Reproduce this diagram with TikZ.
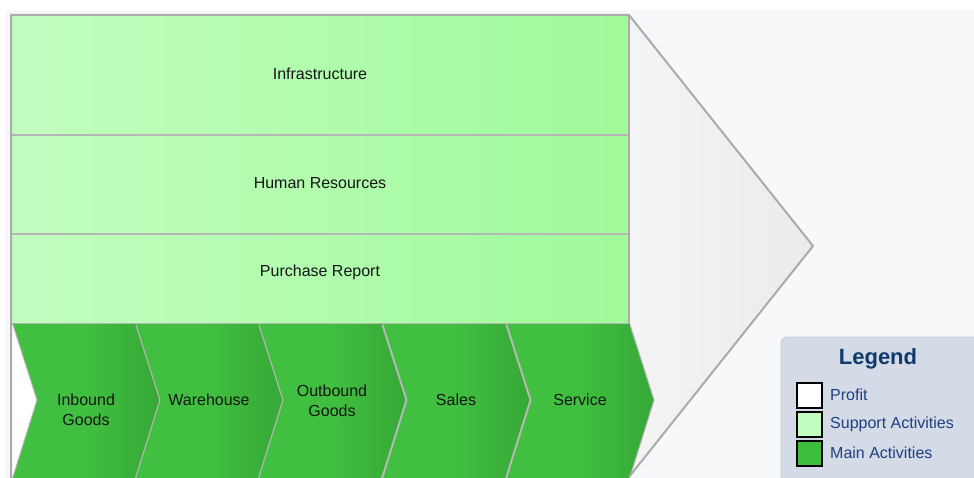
\documentclass[tikz,border=0pt]{standalone}
\usepackage{fontspec}
\setmainfont{Liberation Sans}
\definecolor{bgpane}{HTML}{F7F8FA}
\definecolor{edgegray}{HTML}{ABABAB}
\definecolor{sepgray}{HTML}{B6B6B6}
\definecolor{suppL}{HTML}{C2FDC0}
\definecolor{suppR}{HTML}{A0FB9A}
\definecolor{mainL}{HTML}{40BF40}
\definecolor{mainR}{HTML}{36A836}
\definecolor{triL}{HTML}{F4F4F4}
\definecolor{triR}{HTML}{EBEBEB}
\definecolor{legfill}{HTML}{D5DAE7}
\definecolor{legedge}{HTML}{C9CEDB}
\definecolor{legtitle}{HTML}{0E3A6C}
\definecolor{legtext}{HTML}{1D3F80}
\definecolor{mainsw}{HTML}{3CBD3C}
\definecolor{lbltext}{HTML}{151515}
\tikzset{
  lbl/.style={font=\fontsize{16}{20}\selectfont, text=lbltext, align=center, inner sep=0pt},
  legitem/.style={font=\fontsize{16}{20}\selectfont, text=legtext, anchor=west, inner sep=0pt},
  swatch/.style={draw=black, line width=1.5pt},
  rowsep/.style={draw=sepgray, line width=1.5pt},
  chevline/.style={draw=sepgray, line width=1pt},
}
\begin{document}
\begin{tikzpicture}[x=1pt,y=-1pt]
\clip (0,0) rectangle (974,478);
\fill[white] (0,0) rectangle (974,478);
\fill[bgpane] (5,10) rectangle (974,478);
% profit triangle and frame
\fill[white] (11,15) rectangle (629,490);
\shade[left color=triL, right color=triR] (629,15) -- (813,246) -- (629,477) -- cycle;
% support rows
\shade[left color=suppL, right color=suppR] (11,15) rectangle (629,324);
\path (320,74) node[lbl] (infra) {Infrastructure};
\path (320,183) node[lbl] (hr) {Human Resources};
\path (320,272) node[lbl] (pr) {Purchase Report};
\draw[rowsep] (11,135) -- (629,135);
\draw[rowsep] (11,234) -- (629,234);
\draw[rowsep] (11,324) -- (629,324);
% main activity chevrons
\foreach \x/\nm/\ty/\t in {13/ib/410/{Inbound\\Goods}, 136/wh/400/{Warehouse}, 259/ob/401/{Outbound\\Goods}, 383/sa/400/{Sales}, 507/sv/400/{Service}} {
  \shade[left color=mainL, right color=mainR, middle color=mainL]
    (\x,324) -- ({\x+123},324) -- ({\x+147},400) -- ({\x+122},480) -- ({\x-1},480) -- ({\x+24},400) -- cycle;
  \draw[chevline] (\x,325) -- ({\x+24},400) -- ({\x-1},480);
  \draw[chevline] ({\x+123},325) -- ({\x+147},400) -- ({\x+122},480);
  \path ({\x+73},\ty) node[lbl] (\nm) {\t};
}
% outer frame
\draw[edgegray, line width=2pt, line join=miter] (11,490) -- (11,15) -- (629,15) -- (813,246) -- (629,477);
\draw[edgegray, line width=1.5pt] (629,15) -- (629,324);
% legend
\draw[legedge, fill=legfill, rounded corners=6pt, line width=1pt] (781,337) rectangle (1000,500);
\path (878,359) node[font=\bfseries\fontsize{22}{26}\selectfont, text=legtitle, inner sep=0pt] (legtitle) {Legend};
\draw[swatch, fill=white] (797,383) rectangle (822,408);
\draw[swatch, fill=suppL] (797,412) rectangle (822,437);
\draw[swatch, fill=mainsw] (797,441) rectangle (822,466);
\path (830,395) node[legitem] (lprofit) {Profit};
\path (830,424) node[legitem] (lsupp) {Support Activities};
\path (830,453) node[legitem] (lmain) {Main Activities};
\end{tikzpicture}
\end{document}
